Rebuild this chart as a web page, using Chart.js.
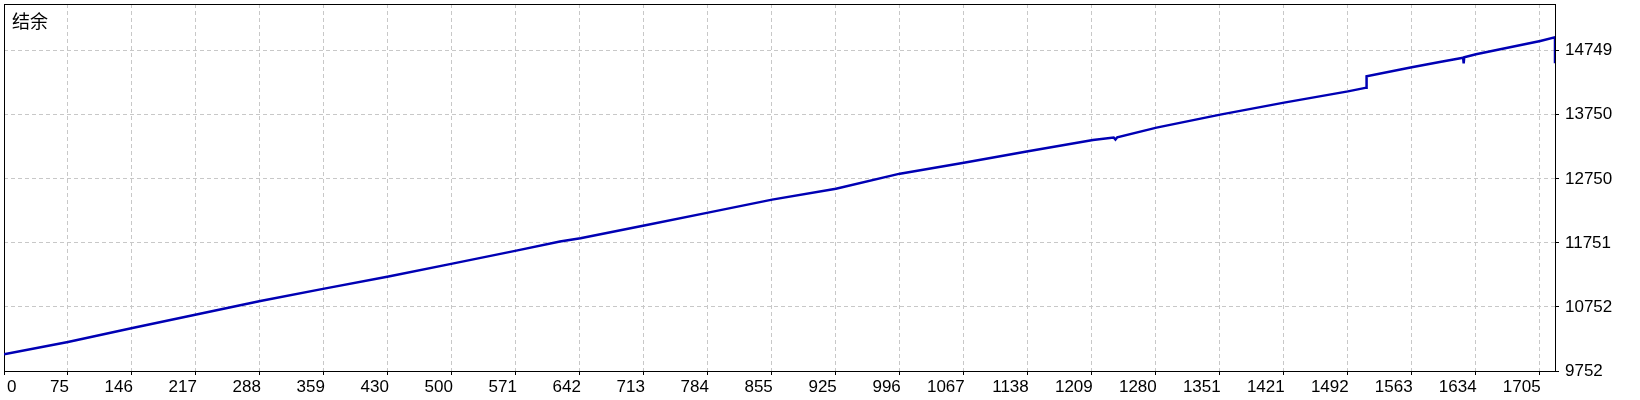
<!DOCTYPE html>
<html>
<head>
<meta charset="utf-8">
<script src="https://cdn.jsdelivr.net/npm/chart.js@4/dist/chart.umd.min.js"></script>
<style>
  html, body { margin: 0; padding: 0; background: #fff; }
  #box { width: 1640px; height: 400px; }
</style>
</head>
<body>
<div id="box"><canvas id="grafico"></canvas></div>
<script>
// etiquetas del eje x (marcas igualmente espaciadas)
const xLabels = ['0', '75', '146', '217', '288', '359', '430', '500', '571', '642', '713', '784', '855',
  '925', '996', '1067', '1138', '1209', '1280', '1351', '1421', '1492', '1563', '1634', '1705'];
const xStep = 71.04;
const xMax = 1722;

// etiquetas del eje y
const yLabels = ['9752', '10752', '11751', '12750', '13750', '14749'];
const yMin = 9752;
const yStep = 999.4;
const yMax = 15478;

// curva de balance
const balanceX = [0, 71, 142.6, 213.6, 284.6, 355.6, 426.9, 497.8, 568.8, 617.2, 640, 710.8, 781.7, 852.8,
  923.7, 994.7, 1065.7, 1137, 1209, 1232, 1234, 1236, 1279.6, 1350.3, 1421.2, 1492.1, 1512.7, 1512.8,
  1563, 1594, 1620, 1620.6, 1621.2, 1634.3, 1705.7, 1722, 1722];
const balanceY = [10013, 10204, 10423, 10632, 10844, 11037, 11225, 11427, 11630, 11773, 11824, 12023, 12223, 12426,
  12597, 12831, 13000, 13179, 13356, 13395, 13362, 13398, 13549, 13752, 13939, 14115, 14173, 14349,
  14490, 14573, 14640, 14552, 14646, 14693, 14900, 14958, 14552];

const titulo = '结余';
const fuente = '"Liberation Sans", Arial, sans-serif';

const puntos = balanceX.map((x, i) => ({ x: x, y: balanceY[i] }));

const decoracion = {
  id: 'decoracion',
  beforeDatasetsDraw(chart) {
    const a = chart.chartArea;
    const ctx = chart.ctx;
    ctx.save();
    ctx.strokeStyle = '#000';
    ctx.lineWidth = 1;
    ctx.strokeRect(Math.round(a.left) + 0.5, Math.round(a.top) + 0.5,
      Math.round(a.right - a.left), Math.round(a.bottom - a.top));
    ctx.restore();
  },
  afterDraw(chart) {
    const ctx = chart.ctx;
    const sx = chart.scales.x;
    ctx.save();
    ctx.fillStyle = '#000';
    ctx.font = '17px ' + fuente;
    ctx.textBaseline = 'alphabetic';
    xLabels.forEach((lab, i) => {
      const px = sx.getPixelForValue(i * xStep);
      if (i === 0) {
        ctx.textAlign = 'left';
        ctx.fillText(lab, px + 3, 392);
      } else {
        ctx.textAlign = 'right';
        ctx.fillText(lab, px + 1, 392);
      }
    });
    ctx.font = '18px "Noto Sans CJK SC", sans-serif';
    ctx.textAlign = 'left';
    ctx.textBaseline = 'top';
    ctx.fillText(titulo, 12, 12);
    ctx.restore();
  }
};

new Chart(document.getElementById('grafico'), {
  type: 'line',
  data: {
    datasets: [{
      label: titulo,
      data: puntos,
      borderColor: '#0000b4',
      borderWidth: 2.5,
      pointRadius: 0,
      tension: 0,
      fill: false
    }]
  },
  options: {
    responsive: true,
    maintainAspectRatio: false,
    animation: false,
    layout: { padding: { left: 4, top: 4, right: 0, bottom: 0 } },
    plugins: {
      legend: { display: false },
      tooltip: { enabled: false }
    },
    scales: {
      x: {
        type: 'linear',
        min: 0,
        max: xMax,
        afterBuildTicks(scale) {
          scale.ticks = xLabels.map((_, i) => ({ value: i * xStep }));
        },
        afterFit(scale) {
          scale.height = 29;
          scale.paddingLeft = 0;
          scale.paddingRight = 0;
        },
        ticks: { display: false },
        grid: { color: '#c8c8c8', lineWidth: 1, tickLength: 4, tickColor: '#000', tickWidth: 1, tickBorderDash: [] },
        border: { display: false, dash: [4, 3] }
      },
      y: {
        position: 'right',
        min: yMin,
        max: yMax,
        afterBuildTicks(scale) {
          scale.ticks = yLabels.map((_, i) => ({ value: yMin + i * yStep }));
        },
        afterFit(scale) {
          scale.width = 85;
          scale.paddingTop = 0;
          scale.paddingBottom = 0;
        },
        ticks: {
          padding: 6,
          color: '#000',
          font: { family: fuente, size: 17 },
          callback: (v, i) => yLabels[i]
        },
        grid: { color: '#c8c8c8', lineWidth: 1, tickLength: 4, tickColor: '#000', tickWidth: 1, tickBorderDash: [] },
        border: { display: false, dash: [4, 3] }
      }
    }
  },
  plugins: [decoracion]
});
</script>
</body>
</html>
